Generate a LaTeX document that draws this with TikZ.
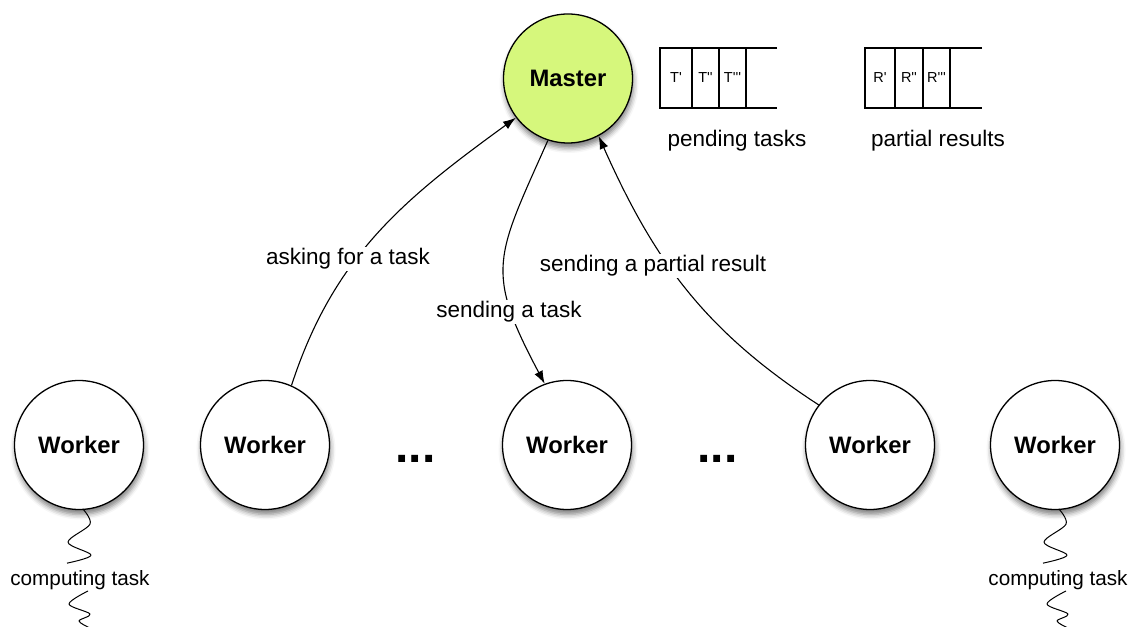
\documentclass[tikz,border=0pt]{standalone}
\usepackage{fontspec}
\setmainfont{Liberation Sans}[Ligatures=TeXOff]
\usetikzlibrary{arrows.meta,shadows.blur}
\definecolor{masterfill}{RGB}{214,247,124}

\tikzset{
  proc/.style={circle, draw, line width=1.3pt, minimum size=129pt, inner sep=0pt,
    fill=white, font=\fontsize{23.8}{27}\selectfont\bfseries,
    blur shadow={shadow xshift=1pt, shadow yshift=-5pt, shadow blur radius=5pt, shadow opacity=50}},
  msg/.style={line width=1.1pt, -{Latex[length=13pt,width=9pt]}},
  lbl/.style={fill=white, inner sep=1.5pt, font=\fontsize{22.5}{26}\selectfont},
  small/.style={fill=white, inner sep=1.5pt, font=\fontsize{20.7}{24}\selectfont},
  cell/.style={font=\fontsize{14.5}{16}\selectfont},
  queue/.style={line width=1.1pt},
  wiggle/.style={line width=1pt, line join=round}
}

\begin{document}
\begin{tikzpicture}[x=1pt,y=1pt]
\useasboundingbox (0,0) rectangle (1131,626);

% master and workers
\node[proc, fill=masterfill] (master) at (568,547.5) {Master};
\node[proc] (w1) at (79,181)   {Worker};
\node[proc] (w2) at (265,181)  {Worker};
\node[proc] (w3) at (567,181)  {Worker};
\node[proc] (w4) at (870,181)  {Worker};
\node[proc] (w5) at (1055,181) {Worker};

% ellipses between workers
\tikzset{dotsty/.style={anchor=base, inner sep=0pt, font=\fontsize{48}{50}\selectfont\bfseries}}
\node[dotsty] (d1) at (415.5,163) {...};
\node[dotsty] (d2) at (717.5,163) {...};

% pending task queue
\draw[queue] (777,578) -- (660,578) -- (660,518) -- (777,518);
\draw[queue] (692,578) -- (692,518) (719,578) -- (719,518) (746,578) -- (746,518);
\node[cell] (t1) at (676,548) {T'};
\node[cell] (t2) at (705.5,548) {T''};
\node[cell] (t3) at (732.5,548) {T'''};
\node[lbl, fill=none] (pt) at (737,485) {pending tasks};

% partial result queue
\draw[queue] (982,578) -- (865,578) -- (865,518) -- (982,518);
\draw[queue] (895,578) -- (895,518) (923,578) -- (923,518) (950,578) -- (950,518);
\node[cell] (r1) at (880,548) {R'};
\node[cell] (r2) at (909,548) {R''};
\node[cell] (r3) at (936.5,548) {R'''};
\node[lbl, fill=none] (pr) at (938,485) {partial results};

% messages between master and workers
\draw[msg] (w2.66) to[out=72,in=216] (master.217);
\node[lbl] (ask) at (348,367) {asking for a task};

\draw[msg] (master.252) to[out=246,in=118,looseness=1.35] (w3.110);
\node[lbl] (send) at (509,314) {sending a task};

\draw[msg] (w4.142) to[out=147,in=294] (master.298);
\node[lbl] (res) at (653,360) {sending a partial result};

% local computation: a wavy line above and below the label
\node[small] (c1) at (80,46) {computing task};
\node[small] (c5) at (1058,46) {computing task};
\foreach \w/\c in {w1/c1, w5/c5}{
  \begin{scope}[shift={(\w.south)}]
    \draw[wiggle] plot[smooth, tension=0.55]
      coordinates {(4,1) (11,-14) (-11,-32) (12,-45) (-12,-53)};
  \end{scope}
  \begin{scope}[shift={(\c.center)}]
    \draw[wiggle] plot[smooth, tension=0.55]
      coordinates {(8,-11) (-11,-24) (10,-34) (-1,-41) (10,-48)};
  \end{scope}
}
\end{tikzpicture}
\end{document}
